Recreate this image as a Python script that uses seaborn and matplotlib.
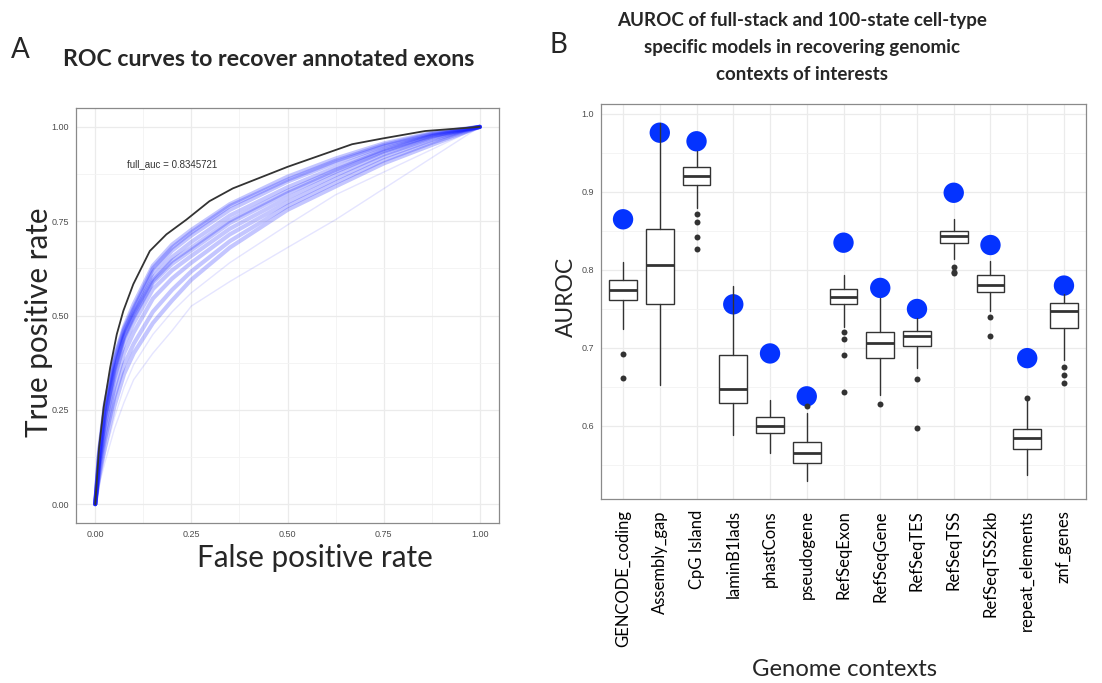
import numpy as np
import pandas as pd
import matplotlib
matplotlib.use("Agg")
import matplotlib.pyplot as plt
import seaborn as sns
from matplotlib.ticker import MultipleLocator, FixedLocator

# ---------------- Panel A data (ROC curves) ----------------
fpr_grid = [0, 0.01, 0.025, 0.05, 0.075, 0.1, 0.15, 0.2, 0.25, 0.35, 0.5, 0.625, 0.75, 0.875, 1.0]
celltype_tpr = [
    [0, 0.14, 0.265, 0.39, 0.47, 0.53, 0.632, 0.688, 0.727, 0.795, 0.868, 0.916, 0.956, 0.984, 1],
    [0, 0.135, 0.26, 0.385, 0.465, 0.52, 0.625, 0.68, 0.72, 0.79, 0.86, 0.91, 0.952, 0.982, 1],
    [0, 0.13, 0.25, 0.375, 0.46, 0.515, 0.615, 0.672, 0.712, 0.78, 0.855, 0.905, 0.948, 0.980, 1],
    [0, 0.12, 0.24, 0.362, 0.45, 0.505, 0.60, 0.655, 0.695, 0.765, 0.84, 0.893, 0.941, 0.977, 1],
    [0, 0.115, 0.232, 0.355, 0.445, 0.50, 0.592, 0.645, 0.68, 0.752, 0.83, 0.886, 0.937, 0.976, 1],
    [0, 0.11, 0.225, 0.35, 0.44, 0.495, 0.587, 0.637, 0.673, 0.745, 0.824, 0.881, 0.934, 0.974, 1],
    [0, 0.10, 0.21, 0.335, 0.425, 0.48, 0.57, 0.62, 0.658, 0.73, 0.812, 0.872, 0.927, 0.970, 1],
    [0, 0.09, 0.19, 0.31, 0.40, 0.455, 0.545, 0.598, 0.64, 0.715, 0.80, 0.862, 0.92, 0.965, 1],
    [0, 0.08, 0.17, 0.285, 0.37, 0.425, 0.51, 0.568, 0.617, 0.697, 0.79, 0.852, 0.911, 0.958, 1],
    [0, 0.07, 0.15, 0.26, 0.345, 0.40, 0.48, 0.54, 0.595, 0.68, 0.78, 0.842, 0.903, 0.952, 1],
]
faint_tpr = [
    [0, 0.05, 0.11, 0.20, 0.27, 0.33, 0.40, 0.46, 0.525, 0.59, 0.68, 0.754, 0.836, 0.918, 1],
    [0, 0.06, 0.13, 0.23, 0.31, 0.37, 0.45, 0.51, 0.56, 0.64, 0.74, 0.82, 0.88, 0.94, 1],
]
full_fpr = [0, 0.010, 0.022, 0.039, 0.056, 0.073, 0.099, 0.142, 0.185, 0.237, 0.297, 0.358, 0.5, 0.668, 0.746, 0.858, 1.0]
full_tpr = [0, 0.15, 0.257, 0.363, 0.45, 0.512, 0.583, 0.671, 0.715, 0.754, 0.803, 0.837, 0.894, 0.954, 0.969, 0.989, 1.0]
full_auc_text = "full_auc = 0.8345721"
roc_ticks = [0.0, 0.25, 0.5, 0.75, 1.0]

# ---------------- Panel B data (AUROC boxplots) ----------------
contexts = ["GENCODE_coding", "Assembly_gap", "CpG Island", "laminB1lads", "phastCons",
            "pseudogene", "RefSeqExon", "RefSeqGene", "RefSeqTES", "RefSeqTSS",
            "RefSeqTSS2kb", "repeat_elements", "znf_genes"]
full_stack_auroc = [0.865, 0.976, 0.965, 0.756, 0.693, 0.638, 0.835, 0.777, 0.750, 0.899, 0.832, 0.687, 0.780]
box_whislo = [0.724, 0.653, 0.879, 0.589, 0.566, 0.529, 0.727, 0.640, 0.674, 0.814, 0.747, 0.537, 0.685]
box_q1     = [0.762, 0.757, 0.909, 0.630, 0.591, 0.553, 0.756, 0.687, 0.702, 0.835, 0.772, 0.570, 0.726]
box_median = [0.774, 0.806, 0.921, 0.647, 0.600, 0.565, 0.766, 0.707, 0.715, 0.844, 0.781, 0.584, 0.747]
box_q3     = [0.787, 0.853, 0.932, 0.691, 0.612, 0.579, 0.776, 0.721, 0.722, 0.850, 0.793, 0.596, 0.758]
box_whishi = [0.810, 0.989, 0.953, 0.779, 0.633, 0.617, 0.794, 0.764, 0.738, 0.865, 0.812, 0.633, 0.769]
box_fliers = [
    [0.692, 0.662], [], [0.872, 0.861, 0.842, 0.827], [], [], [0.626],
    [0.720, 0.712, 0.691, 0.643], [0.628], [0.660, 0.597], [0.804, 0.798, 0.796],
    [0.740, 0.715], [0.636], [0.676, 0.665, 0.655],
]
auroc_ticks = [0.6, 0.7, 0.8, 0.9, 1.0]

# ---------------- figure ----------------
sns.set_style("white")
plt.rcParams["font.family"] = ["Lato", "DejaVu Sans"]
W, H = 1102, 683
fig = plt.figure(figsize=(W / 100, H / 100), dpi=100)
fig.patch.set_facecolor("white")

def fx(px):
    return px / W

def fy(py):
    return 1 - py / H

axA = fig.add_axes([fx(76), fy(523), (499 - 76) / W, (523 - 108) / H])
axB = fig.add_axes([fx(601), fy(499), (1086 - 601) / W, (499 - 104) / H])

TICK_FONT = "Liberation Sans"
for ax in (axA, axB):
    ax.set_facecolor("white")
    for s in ax.spines.values():
        s.set_color("#8a8a8a")
        s.set_linewidth(0.9)
    ax.tick_params(axis="both", which="major", length=3, width=0.8, color="#8a8a8a",
                   labelsize=6.5, labelcolor="#4d4d4d", pad=2)
    ax.tick_params(axis="both", which="minor", length=0)
    ax.grid(True, which="major", color="#ebebeb", linewidth=0.9, zorder=0)
    ax.grid(True, which="minor", color="#f3f3f3", linewidth=0.6, zorder=0)
    ax.set_axisbelow(True)

# ---- Panel A ----
rows = []
for i, tpr in enumerate(celltype_tpr):
    for f, t in zip(fpr_grid, tpr):
        rows.append((f"m{i}", f, t))
dfA = pd.DataFrame(rows, columns=["model", "fpr", "tpr"])
rows = []
for i, tpr in enumerate(faint_tpr):
    for f, t in zip(fpr_grid, tpr):
        rows.append((f"f{i}", f, t))
dfF = pd.DataFrame(rows, columns=["model", "fpr", "tpr"])
dfFull = pd.DataFrame({"fpr": full_fpr, "tpr": full_tpr})

sns.lineplot(data=dfF, x="fpr", y="tpr", units="model", estimator=None, sort=False,
             color="#2a2aff", alpha=0.12, linewidth=1.0, ax=axA, legend=False)
sns.lineplot(data=dfA, x="fpr", y="tpr", units="model", estimator=None, sort=False,
             color="#0a14ff", alpha=0.24, linewidth=3.0, ax=axA, legend=False)
sns.lineplot(data=dfFull, x="fpr", y="tpr", sort=False, color="#333333",
             linewidth=1.3, ax=axA, legend=False)
axA.text(0.199, 0.901, full_auc_text, ha="center", va="center", fontsize=7,
         color="#333333", family=TICK_FONT)

axA.set_xlim(-0.05, 1.05)
axA.set_ylim(-0.05, 1.05)
axA.xaxis.set_major_locator(FixedLocator(roc_ticks))
axA.yaxis.set_major_locator(FixedLocator(roc_ticks))
axA.xaxis.set_minor_locator(MultipleLocator(0.125))
axA.yaxis.set_minor_locator(MultipleLocator(0.125))
axA.set_xticklabels([f"{v:.2f}" for v in roc_ticks], family=TICK_FONT)
axA.set_yticklabels([f"{v:.2f}" for v in roc_ticks], family=TICK_FONT)
axA.set_xlabel("")
axA.set_ylabel("")

# ---- Panel B ----
positions = list(range(len(contexts)))
stats = [dict(med=m, q1=a, q3=b, whislo=lo, whishi=hi, fliers=f, label=c)
         for c, m, a, b, lo, hi, f in zip(contexts, box_median, box_q1, box_q3,
                                          box_whislo, box_whishi, box_fliers)]
sns.scatterplot(x=positions, y=full_stack_auroc, s=215, color="#0433ff",
                edgecolor="none", ax=axB, zorder=2, legend=False)
axB.bxp(stats, positions=positions, widths=0.76, patch_artist=True, showcaps=False,
        boxprops=dict(facecolor="white", edgecolor="#333333", linewidth=1.0),
        medianprops=dict(color="#333333", linewidth=2.0),
        whiskerprops=dict(color="#333333", linewidth=1.0),
        flierprops=dict(marker="o", markerfacecolor="#333333", markeredgecolor="none",
                        markersize=4.3),
        manage_ticks=False, zorder=3)
axB.set_xlim(-0.6, len(contexts) - 0.4)
axB.set_ylim(0.5064, 1.0128)
axB.xaxis.set_major_locator(FixedLocator(positions))
axB.yaxis.set_major_locator(FixedLocator(auroc_ticks))
axB.yaxis.set_minor_locator(MultipleLocator(0.05))
axB.set_yticklabels([f"{v:.1f}" for v in auroc_ticks], family=TICK_FONT)
axB.set_xticklabels(contexts, rotation=90, ha="center", va="top", color="black",
                    family=["Lato", "DejaVu Sans"])
axB.tick_params(axis="x", which="major", pad=5)
axB.set_xlabel("")
axB.set_ylabel("")

# ---- free text ----
fig.canvas.draw()
r = fig.canvas.get_renderer()

def fit(t, target, dim="w"):
    bb = t.get_window_extent(renderer=r)
    cur = bb.width if dim == "w" else bb.height
    t.set_fontsize(t.get_fontsize() * target / cur)
    return t

tA = fig.text(fx(20), fy(57.7), "A", fontsize=20, ha="center", va="baseline")
tB = fig.text(fx(558), fy(52.7), "B", fontsize=20, ha="center", va="baseline")
titleA = fig.text(fx(269), fy(65.5), "ROC curves to recover annotated exons",
                  fontsize=16, fontweight="bold", ha="center", va="baseline")
fit(titleA, 412)
b1 = fig.text(fx(802), fy(26), "AUROC of full-stack and 100-state cell-type",
              fontsize=16, fontweight="bold", ha="center", va="baseline")
fit(b1, 369)
for txt, yb in [("specific models in recovering genomic", 53),
                ("contexts of interests", 80)]:
    fig.text(fx(802), fy(yb), txt, fontsize=b1.get_fontsize(), fontweight="bold",
             ha="center", va="baseline")

yl = fig.text(fx(39), fy(322), "True positive rate", rotation=90, fontsize=20,
              ha="center", va="center")
fit(yl, 230, "h")
xl = fig.text(fx(315), fy(558), "False positive rate", fontsize=20,
              ha="center", va="center")
fit(xl, 236)
yl2 = fig.text(fx(566), fy(297), "AUROC", rotation=90, fontsize=16,
               ha="center", va="center")
fit(yl2, 80, "h")
xl2 = fig.text(fx(845), fy(670), "Genome contexts", fontsize=16,
               ha="center", va="center")
fit(xl2, 186)

# fit x tick labels of panel B
labs = axB.get_xticklabels()
bb = labs[0].get_window_extent(renderer=r)
scale = 137 / bb.height
for lab in labs:
    lab.set_fontsize(lab.get_fontsize() * scale)

fig.savefig("out.png", dpi=100, facecolor="white")
